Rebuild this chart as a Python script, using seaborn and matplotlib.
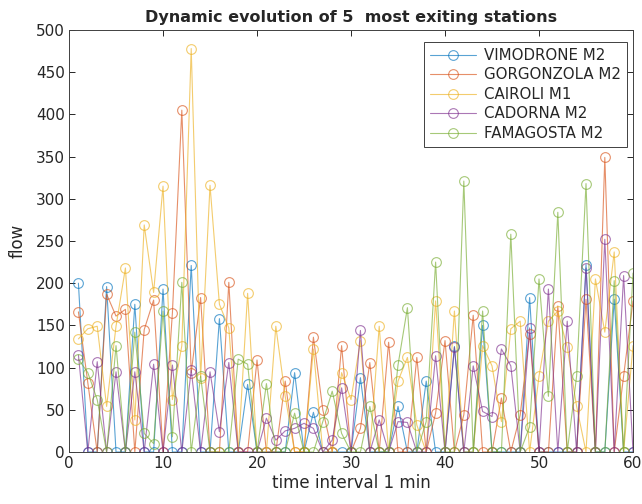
import numpy as np
import pandas as pd
import seaborn as sns
import matplotlib
matplotlib.use("Agg")
import matplotlib.pyplot as plt

# Exit flow per one-minute interval for the five busiest exit stations
minutes = list(range(1, 61))

vimodrone = [200, 0, 0, 196, 0, 0, 175, 0, 0, 193,
             0, 0, 221, 0, 0, 158, 0, 0, 80, 0,
             0, 0, 0, 94, 0, 47, 0, 0, 0, 0,
             88, 0, 0, 0, 54, 0, 0, 84, 0, 0,
             125, 0, 0, 150, 0, 0, 0, 0, 183, 0,
             0, 0, 0, 0, 222, 0, 0, 181, 0, 0]

gorgonzola = [166, 82, 0, 187, 161, 169, 0, 145, 180, 0,
              165, 405, 94, 183, 0, 0, 201, 0, 0, 109,
              0, 0, 84, 0, 0, 136, 50, 0, 126, 0,
              28, 106, 0, 130, 0, 0, 112, 0, 46, 132,
              0, 44, 162, 0, 0, 64, 0, 44, 140, 0,
              0, 173, 0, 0, 181, 0, 349, 0, 90, 179]

cairoli = [134, 146, 149, 54, 149, 218, 38, 269, 189, 315,
           62, 126, 478, 88, 316, 175, 147, 0, 188, 0,
           0, 149, 66, 0, 0, 122, 0, 0, 94, 62,
           132, 0, 149, 0, 84, 112, 32, 0, 179, 0,
           167, 0, 0, 126, 102, 36, 146, 155, 0, 90,
           155, 167, 124, 54, 0, 205, 142, 237, 0, 126]

cadorna = [115, 0, 107, 0, 95, 0, 95, 0, 104, 0,
           103, 0, 97, 0, 95, 24, 106, 0, 0, 0,
           40, 14, 25, 28, 34, 28, 0, 14, 76, 0,
           144, 0, 38, 0, 36, 35, 0, 0, 114, 0,
           124, 0, 102, 48, 42, 122, 102, 0, 147, 0,
           193, 0, 155, 0, 218, 0, 252, 0, 209, 0]

famagosta = [110, 94, 62, 0, 126, 0, 142, 22, 10, 167,
             18, 201, 0, 90, 0, 0, 0, 110, 104, 0,
             81, 0, 0, 46, 0, 0, 36, 72, 22, 0,
             0, 54, 0, 0, 103, 171, 0, 36, 225, 0,
             0, 321, 0, 167, 0, 0, 258, 0, 30, 205,
             66, 284, 0, 90, 318, 0, 0, 203, 0, 212]

stations = ["VIMODRONE M2", "GORGONZOLA M2", "CAIROLI M1",
            "CADORNA M2", "FAMAGOSTA M2"]
series = [vimodrone, gorgonzola, cairoli, cadorna, famagosta]
colors = ["#0072BD", "#D95319", "#EDB120", "#7E2F8E", "#77AC30"]

xticks = [0, 10, 20, 30, 40, 50, 60]
yticks = [0, 50, 100, 150, 200, 250, 300, 350, 400, 450, 500]

sns.set_theme(style="white")
plt.rcParams["font.family"] = ["DejaVu Sans"]

fig = plt.figure(figsize=(6.42, 5.04), dpi=100)
ax = fig.add_axes([0.1075, 0.1032, 0.8785, 0.8373])

for name, vals, col in zip(stations, series, colors):
    df = pd.DataFrame({"minute": minutes, "flow": vals})
    sns.lineplot(data=df, x="minute", y="flow", ax=ax, color=col,
                 linewidth=0.8, alpha=0.65, marker="o", markersize=7,
                 markerfacecolor="none", markeredgecolor=col,
                 markeredgewidth=0.8, label=name)

ax.set_xlim(0, 60)
ax.set_ylim(0, 500)
ax.set_xticks(xticks)
ax.set_yticks(yticks)
ax.tick_params(direction="in", length=4, width=0.7, colors="#262626",
               labelsize=11, top=True, right=True, bottom=True, left=True,
               labeltop=False, labelright=False, pad=3)
for sp in ax.spines.values():
    sp.set_visible(True)
    sp.set_color("#404040")
    sp.set_linewidth(0.7)

ax.set_title("Dynamic evolution of 5  most exiting stations",
             fontsize=11.5, fontweight="bold", pad=6)
ax.set_xlabel("time interval 1 min", fontsize=12, color="#262626", labelpad=2)
ax.set_ylabel("flow", fontsize=12, color="#262626", labelpad=7)

leg = ax.legend(loc="upper right", bbox_to_anchor=(0.989, 0.972),
                borderaxespad=0, fancybox=False, framealpha=1,
                edgecolor="#404040", fontsize=10.8, handlelength=3.1,
                labelspacing=0.3, borderpad=0.4, handletextpad=0.5)
leg.get_frame().set_linewidth(0.7)

fig.savefig("out.png", dpi=100)
